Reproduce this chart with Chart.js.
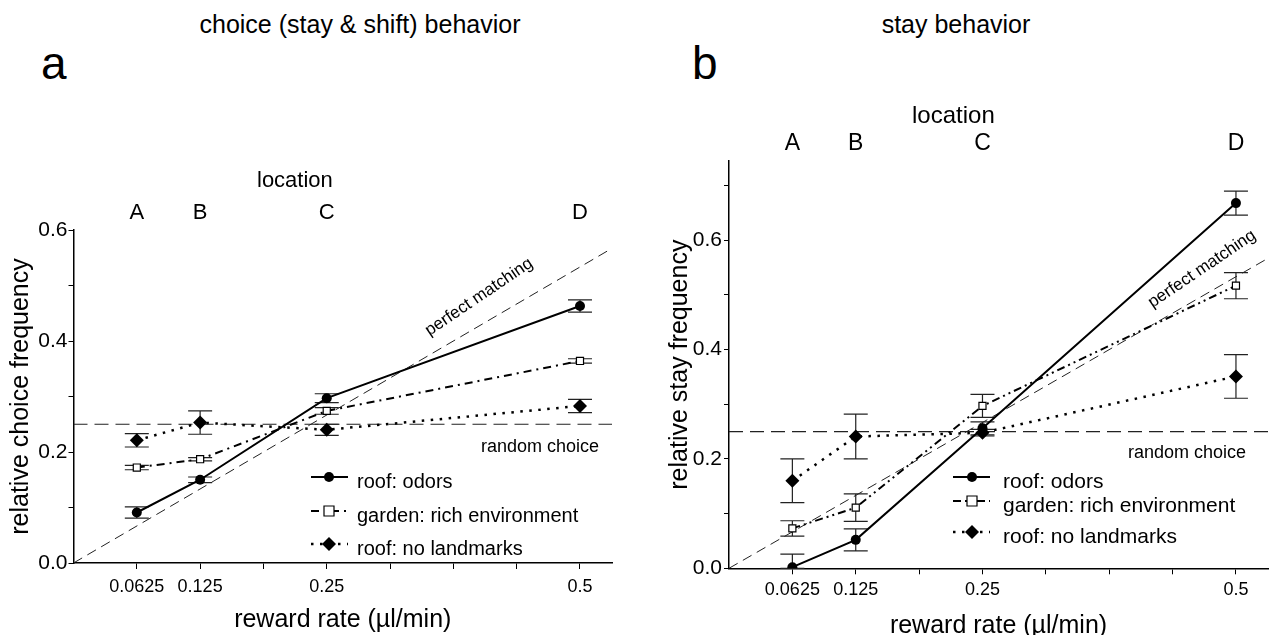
<!DOCTYPE html>
<html>
<head>
<meta charset="utf-8">
<script src="https://cdn.jsdelivr.net/npm/chart.js@4.4.1/dist/chart.umd.min.js"></script>
<style>
  body { margin: 0; width: 1277px; height: 635px; overflow: hidden; position: relative; background: #fff;
         font-family: 'Liberation Sans', Arial, sans-serif; color: #000; }
  .ttl { position: absolute; font-size: 25px; line-height: 1; white-space: nowrap; transform: translateX(-50%); }
  .let { position: absolute; font-size: 46px; line-height: 1; }
  canvas { position: absolute; top: 0; }
</style>
</head>
<body>
<div class="ttl" style="left:360px;top:12px">choice (stay &amp; shift) behavior</div>
<div class="ttl" style="left:956px;top:12px">stay behavior</div>
<div class="let" style="left:41px;top:40px">a</div>
<div class="let" style="left:692px;top:40px">b</div>
<canvas id="chartA" width="640" height="645" style="left:0"></canvas>
<canvas id="chartB" width="637" height="645" style="left:640px"></canvas>
<script>
// --- data ---
var rewardRates = [0.0625, 0.125, 0.25, 0.5];
var locations = ['A', 'B', 'C', 'D'];
var xTicks = [0.0625, 0.125, 0.1875, 0.25, 0.3125, 0.375, 0.4375, 0.5];
var xTickLabels = ['0.0625', '0.125', '', '0.25', '', '', '', '0.5'];
var yTicksA = [0, 0.1, 0.2, 0.3, 0.4, 0.5, 0.6];
var yTickLabelsA = ['0.0', '', '0.2', '', '0.4', '', '0.6'];
var yTicksB = [0, 0.1, 0.2, 0.3, 0.4, 0.5, 0.6, 0.7];
var yTickLabelsB = ['0.0', '', '0.2', '', '0.4', '', '0.6', ''];
var seriesNames = ['roof: odors', 'garden: rich environment', 'roof: no landmarks'];

// a: relative choice frequency
var choiceOdors = [0.091, 0.150, 0.297, 0.463];
var choiceOdorsErr = [0.010, 0.005, 0.008, 0.011];
var choiceGarden = [0.172, 0.187, 0.274, 0.364];
var choiceGardenErr = [0.004, 0.003, 0.006, 0.004];
var choiceNoLm = [0.221, 0.253, 0.240, 0.283];
var choiceNoLmErr = [0.012, 0.021, 0.010, 0.012];

// b: relative stay frequency
var stayOdors = [0.002, 0.052, 0.256, 0.668];
var stayOdorsErr = [0.024, 0.020, 0.012, 0.022];
var stayGarden = [0.073, 0.111, 0.297, 0.517];
var stayGardenErr = [0.014, 0.025, 0.021, 0.024];
var stayNoLm = [0.160, 0.241, 0.248, 0.351];
var stayNoLmErr = [0.040, 0.041, 0.006, 0.040];

var randomChoice = 0.25;
var rewardSum = 0.9375;   // perfect matching = rate / sum of rates
var xMax = 0.5316;

var FONT = "'Liberation Sans', Arial, sans-serif";
Chart.defaults.font.family = FONT;
Chart.defaults.color = '#000';

function xy(vals) {
  return rewardRates.map(function (r, i) { return { x: r, y: vals[i] }; });
}

// error bars, drawn under the markers
var errorBars = {
  id: 'errorBars',
  beforeDatasetsDraw: function (chart) {
    var ctx = chart.ctx, ys = chart.scales.y;
    ctx.save();
    ctx.strokeStyle = '#222';
    ctx.lineWidth = 1.2;
    chart.data.datasets.forEach(function (ds, i) {
      if (!ds.errors) return;
      chart.getDatasetMeta(i).data.forEach(function (pt, j) {
        var v = ds.data[j].y, e = ds.errors[j];
        var top = ys.getPixelForValue(v + e);
        var bot = ys.getPixelForValue(Math.max(ys.min, v - e));
        ctx.beginPath();
        ctx.moveTo(pt.x, top); ctx.lineTo(pt.x, bot);
        ctx.moveTo(pt.x - 12, top); ctx.lineTo(pt.x + 12, top);
        ctx.moveTo(pt.x - 12, bot); ctx.lineTo(pt.x + 12, bot);
        ctx.stroke();
      });
    });
    ctx.restore();
  }
};

function marker(ctx, style, x, y, r) {
  ctx.beginPath();
  if (style === 'circle') {
    ctx.arc(x, y, r, 0, Math.PI * 2);
    ctx.fillStyle = '#000'; ctx.fill();
  } else if (style === 'rect') {
    ctx.rect(x - r, y - r, 2 * r, 2 * r);
    ctx.fillStyle = '#fff'; ctx.fill();
    ctx.lineWidth = 1.2; ctx.strokeStyle = '#000'; ctx.stroke();
  } else {
    ctx.moveTo(x, y - r); ctx.lineTo(x + r, y); ctx.lineTo(x, y + r); ctx.lineTo(x - r, y); ctx.closePath();
    ctx.fillStyle = '#000'; ctx.fill();
  }
}

// texts inside the plot + legend
function notes(lay) {
  return {
    id: 'notes',
    afterDraw: function (chart) {
      var ctx = chart.ctx;
      ctx.save();
      ctx.fillStyle = '#000';
      ctx.textBaseline = 'alphabetic';
      ctx.textAlign = 'left';
      ctx.font = lay.locFont + 'px ' + FONT;
      ctx.fillText('location', lay.locX, lay.locY);

      ctx.font = '18px ' + FONT;
      ctx.textAlign = 'right';
      ctx.fillText('random choice', lay.randX, lay.randY);

      ctx.save();
      ctx.translate(lay.pmX, lay.pmY);
      ctx.rotate(-34 * Math.PI / 180);
      ctx.font = '17px ' + FONT;
      ctx.textAlign = 'center';
      ctx.textBaseline = 'middle';
      ctx.fillText('perfect matching', 0, 0);
      ctx.restore();

      // legend
      ctx.font = lay.legFont + 'px ' + FONT;
      ctx.textAlign = 'left';
      for (var i = 0; i < 3; i++) {
        var ds = chart.data.datasets[i];
        var yb = lay.legBase[i], ym = yb - 11;
        ctx.save();
        ctx.strokeStyle = '#000';
        ctx.lineWidth = ds.borderWidth;
        ctx.setLineDash(ds.borderDash || []);
        ctx.beginPath();
        ctx.moveTo(lay.legX1, ym); ctx.lineTo(lay.legX2, ym);
        ctx.stroke();
        ctx.setLineDash([]);
        marker(ctx, ds.pointStyle, lay.legM, ym, ds.pointRadius);
        ctx.restore();
        ctx.fillStyle = '#000';
        ctx.fillText(ds.label, lay.legT, yb);
      }
      ctx.restore();
    }
  };
}

function makeChart(id, s, p) {
  var datasets = [
    { label: seriesNames[0], data: xy(s.odors), errors: s.odorsErr,
      borderColor: '#000', borderWidth: 2, pointStyle: 'circle', pointRadius: 5,
      pointBackgroundColor: '#000', pointBorderColor: '#000', pointBorderWidth: 0 },
    { label: seriesNames[1], data: xy(s.garden), errors: s.gardenErr,
      borderColor: '#000', borderWidth: 2, borderDash: p.gardenDash, pointStyle: 'rect', pointRadius: 5,
      pointBackgroundColor: '#fff', pointBorderColor: '#000', pointBorderWidth: 1.2 },
    { label: seriesNames[2], data: xy(s.noLm), errors: s.noLmErr,
      borderColor: '#000', borderWidth: 2.5, borderDash: [2.5, 6.5], pointStyle: 'rectRot', pointRadius: 7,
      pointBackgroundColor: '#000', pointBorderColor: '#000', pointBorderWidth: 0 },
    { label: 'perfect matching', data: [{ x: 0, y: 0 }, { x: xMax, y: xMax / rewardSum }],
      borderColor: '#222', borderWidth: 1, borderDash: [10, 6], pointRadius: 0 },
    { label: 'random choice', data: [{ x: 0, y: randomChoice }, { x: xMax, y: randomChoice }],
      borderColor: '#222', borderWidth: 1.2, borderDash: [14, 7], pointRadius: 0 }
  ];

  return new Chart(document.getElementById(id), {
    type: 'line',
    data: { datasets: datasets },
    options: {
      responsive: false,
      animation: false,
      layout: { padding: { top: p.top, right: p.right, left: 0, bottom: 0 } },
      plugins: { legend: { display: false }, tooltip: { enabled: false } },
      scales: {
        x: {
          type: 'linear', position: 'bottom', min: 0, max: xMax,
          afterBuildTicks: function (sc) { sc.ticks = xTicks.map(function (v) { return { value: v }; }); },
          afterFit: function (sc) { sc.height = p.xH; },
          ticks: { autoSkip: false, maxRotation: 0, padding: p.xTickPad, font: { size: 18 },
                   callback: function (v) { return xTickLabels[xTicks.indexOf(v)]; } },
          grid: { drawOnChartArea: false, tickLength: 6, color: '#000', lineWidth: 1 },
          border: { color: '#000', width: 1.5 },
          title: { display: true, text: 'reward rate (µl/min)', font: { size: 25 }, padding: p.xTitlePad }
        },
        x2: {
          type: 'linear', position: 'top', min: 0, max: xMax,
          afterBuildTicks: function (sc) { sc.ticks = rewardRates.map(function (v) { return { value: v }; }); },
          afterFit: function (sc) { sc.height = 40; },
          ticks: { autoSkip: false, maxRotation: 0, padding: 4, font: { size: p.locFont },
                   callback: function (v) { return locations[rewardRates.indexOf(v)]; } },
          grid: { display: false, drawTicks: false },
          border: { display: false }
        },
        y: {
          type: 'linear', min: 0, max: p.yMax,
          afterBuildTicks: function (sc) { sc.ticks = p.yTicks.map(function (v) { return { value: v }; }); },
          afterFit: function (sc) { sc.width = p.yW; },
          ticks: { autoSkip: false, padding: p.yTickPad, font: { size: 21 },
                   callback: function (v) { return p.yTickLabels[p.yTicks.indexOf(v)]; } },
          grid: { drawOnChartArea: false, tickLength: 5, color: '#000', lineWidth: 1 },
          border: { color: '#000', width: 1.5 },
          title: { display: true, text: p.yTitle, font: { size: 25 }, padding: p.yTitlePad }
        }
      }
    },
    plugins: [errorBars, notes(p.lay)]
  });
}

makeChart('chartA',
  { odors: choiceOdors, odorsErr: choiceOdorsErr, garden: choiceGarden, gardenErr: choiceGardenErr,
    noLm: choiceNoLm, noLmErr: choiceNoLmErr },
  { top: 190, right: 28, xH: 82, yW: 73.5, yMax: 0.6, yTicks: yTicksA, yTickLabels: yTickLabelsA,
    xTickPad: 7, xTitlePad: 10, yTickPad: 1, yTitlePad: 6.5, locFont: 22,
    gardenDash: [8, 5, 2, 5], yTitle: 'relative choice frequency',
    lay: { locFont: 22, locX: 257, locY: 187, randX: 599, randY: 452, pmX: 479, pmY: 297,
           legFont: 20, legBase: [488, 522, 555], legX1: 311, legX2: 348, legM: 329, legT: 357 } });

makeChart('chartB',
  { odors: stayOdors, odorsErr: stayOdorsErr, garden: stayGarden, gardenErr: stayGardenErr,
    noLm: stayNoLm, noLmErr: stayNoLmErr },
  { top: 121, right: 9, xH: 76.7, yW: 89, yMax: 0.745, yTicks: yTicksB, yTickLabels: yTickLabelsB,
    xTickPad: 5, xTitlePad: 4, yTickPad: 2, yTitlePad: 25, locFont: 23,
    gardenDash: [8, 4, 2, 4, 2, 4], yTitle: 'relative stay frequency',
    lay: { locFont: 24, locX: 272, locY: 123, randX: 606, randY: 458, pmX: 562, pmY: 269,
           legFont: 21, legBase: [488, 512, 543], legX1: 313, legX2: 350, legM: 332, legT: 363 } });
</script>
</body>
</html>
